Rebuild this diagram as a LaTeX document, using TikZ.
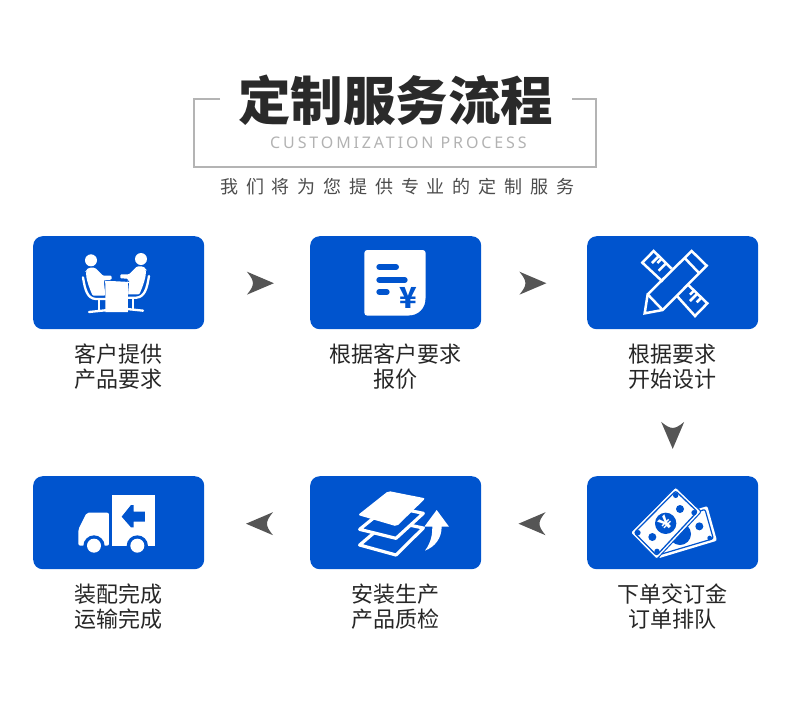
\documentclass[tikz,border=0pt]{standalone}
\usepackage{fontspec}
\usetikzlibrary{calc}
\setmainfont{Noto Sans}
\newfontfamily\cjk{Noto Sans CJK SC}
\newfontfamily\cjkspaced[LetterSpace=43.6]{Noto Sans CJK SC}
\newfontfamily\latspaced[LetterSpace=18]{Noto Sans}
\definecolor{brandblue}{HTML}{0054CE}
\definecolor{framegray}{HTML}{B4B4B4}
\definecolor{arrowgray}{HTML}{555555}
\definecolor{titleink}{HTML}{2A2A2A}
\tikzset{
  card/.style={fill=brandblue,rounded corners=9.5pt,minimum width=171pt,minimum height=93pt,inner sep=0pt,anchor=north west},
  lbl/.style={font=\cjk\fontsize{22}{25}\selectfont,text=black!85,align=center,inner sep=0pt},
  wline/.style={draw=white,line width=2.5pt},
  chev/.pic={\fill[arrowgray] (13.5,0) -- (-13.5,-11.5) .. controls (-9,-6) and (-7.5,-3) .. (-7.5,0) .. controls (-7.5,3) and (-9,6) .. (-13.5,11.5) -- cycle;}
}
\begin{document}
\begin{tikzpicture}[x=1pt,y=-1pt]
\useasboundingbox (0,0) rectangle (790,713);
% heading
\coordinate (fa) at (220,98.5);
\coordinate (fb) at (193.5,98.5);
\coordinate (fc) at (193.5,166.7);
\coordinate (fd) at (596,166.7);
\coordinate (fe) at (596,98.5);
\coordinate (ff) at (572,98.5);
\draw[framegray,line width=2pt] (fa) -- (fb) -- (fc) -- (fd) -- (fe) -- (ff);
\node[font=\cjk\bfseries\fontsize{52.5}{56}\selectfont,text=titleink,inner sep=0pt] (title) at (395.5,100.5) {定制服务流程};
\node[font=\latspaced\fontsize{16}{18}\selectfont,text=black!30,inner sep=0pt,anchor=west] (subtitle) at (270,143) {CUSTOMIZATION PROCESS};
\node[font=\cjkspaced\fontsize{18}{20}\selectfont,text=black!70,inner sep=0pt,anchor=west] (tagline) at (220,187) {我们将为您提供专业的定制服务};
% cards
\node[card] (c1) at (33,236) {};
\node[card] (c2) at (310,236) {};
\node[card] (c3) at (587,236) {};
\node[card] (c4) at (587,476) {};
\node[card] (c5) at (310,476) {};
\node[card] (c6) at (33,476) {};
% labels
\node[lbl] (t1) at (118.5,367) {客户提供\\产品要求};
\node[lbl] (t2) at (395.5,367) {根据客户要求\\报价};
\node[lbl] (t3) at (672.5,367) {根据要求\\开始设计};
\node[lbl] (t4) at (672.5,607) {下单交订金\\订单排队};
\node[lbl] (t5) at (395.5,607) {安装生产\\产品质检};
\node[lbl] (t6) at (118.5,607) {装配完成\\运输完成};
% step arrows
\pic at ($(c1.east)+(56,0.5)$) {chev};
\pic at ($(c2.east)+(51.5,0.5)$) {chev};
\pic[rotate=-90] at ($(c3.south)+(0,106)$) {chev};
\pic[rotate=180] at ($(c4.west)+(-55,1)$) {chev};
\pic[rotate=180] at ($(c5.west)+(-50.5,1)$) {chev};
% icon 1: two people at a table
\begin{scope}[shift={(30,230)},scale=1/3]
  \foreach \m/\o/\dy in {1/0/0,-1/516/-4}{
    \begin{scope}[shift={(\o,\dy)},xscale=\m]
      \fill[white] (183,91) circle (18);
      \draw[white,line width=2.3pt,line cap=round] (159,142) .. controls (165,180) and (172,205) .. (197,207) -- (228,207);
      \draw[white,line width=2.3pt] (206,207) -- (206,240);
      \draw[white,line width=2.3pt,line cap=round] (177,246) -- (235,240);
      \fill[white,rounded corners=1pt] (168,125) .. controls (170,112) and (192,110) .. (200,118) -- (219,137) -- (245,137) -- (245,149) -- (222,150) -- (226,197) -- (188,197) .. controls (176,170) and (168,145) .. cycle;
    \end{scope}
  }
  \draw[brandblue,line width=1pt] (224,152) -- (228,198);
  \draw[brandblue,line width=1pt] (296,152) -- (292,198);
  \fill[white] (224,152) -- (300,156) -- (294,160) -- (294,246) -- (226,246) -- (226,160) -- cycle;
\end{scope}
% icon 2: quotation sheet
\begin{scope}[shift={(240,230)},scale=1/3]
  \fill[white,rounded corners=3pt] (373,60) -- (557,60) -- (557,190) -- (557,257) -- (373,257) -- cycle;
  \fill[brandblue] (557,205) .. controls (557,235) and (535,257) .. (505,257) -- (560,262) -- (560,205) -- cycle;
  \draw[brandblue,line width=6pt,line cap=round] (418,111) -- (468,111);
  \draw[brandblue,line width=6pt,line cap=round] (418,150) -- (494,150);
  \draw[brandblue,line width=6pt,line cap=round] (418,186) -- (440,186);
  \node[font=\cjk\bfseries\fontsize{29}{30}\selectfont,text=brandblue,inner sep=0pt] (yen1) at (506,204) {¥};
\end{scope}
% icon 3: ruler and pencil
\begin{scope}[shift={(510,230)},scale=1/3]
  \draw[wline,line join=miter] (458,155) -- (397,98) -- (431,63) -- (485,116);
  \draw[wline] (446,79) -- (426,99);
  \draw[wline] (454,87) -- (442,99);
  \draw[wline] (468,100) -- (446,122);
  \draw[wline,line join=miter] (535,165) -- (592,220) -- (555,258) -- (500,197);
  \draw[wline] (552,182) -- (540,194);
  \draw[wline] (562,191) -- (540,213);
  \draw[wline] (574,203) -- (560,217);
  \draw[wline,line join=miter] (413,193) -- (545,63) -- (590,107) -- (458,240) -- (404,250) -- cycle;
  \draw[wline] (413,193) -- (458,240);
  \draw[wline] (525,85) -- (568,130);
\end{scope}
% icon 4: banknotes
\begin{scope}[shift={(510,410)},scale=1/3]
  \fill[white,rounded corners=2pt] (555,300) -- (592,288) -- (621,392) -- (445,445) -- cycle;
  \draw[brandblue,line width=1.2pt,rounded corners=2pt] (565,305) -- (585,298) -- (610,386) -- (455,432);
  \fill[brandblue] (568,349) circle (12);
  \fill[brandblue] (599,384) circle (7);
  \fill[brandblue] (510,372) circle (33);
  \fill[white,draw=brandblue,line width=1pt,rounded corners=2pt] (497,231) -- (574,305) -- (440,448) -- (361,368) -- cycle;
  \draw[brandblue,line width=1.3pt,rounded corners=2pt] (497,243) -- (562,305) -- (440,436) -- (373,368) -- cycle;
  \fill[brandblue] (467,340) circle (32);
  \fill[brandblue] (510,297) circle (12);
  \fill[brandblue] (427,381) circle (12);
  \fill[brandblue] (497,256) circle (8);
  \fill[brandblue] (552,308) circle (8);
  \fill[brandblue] (441,424) circle (8);
  \fill[brandblue] (384,368) circle (8);
  \node[font=\cjk\bfseries\fontsize{18}{18}\selectfont,text=white,inner sep=0pt,rotate=45] (yen2) at (467,340) {¥};
\end{scope}
% icon 5: stacked layers and up arrow
\begin{scope}[shift={(240,470)},scale=1/3]
  \draw[white,fill=brandblue,line width=3.2pt,line join=round] (445,152) -- (550,174) -- (468,255) -- (359,225) -- cycle;
  \draw[white,fill=brandblue,line width=3.2pt,line join=round] (445,108) -- (550,130) -- (468,205) -- (359,178) -- cycle;
  \fill[white,rounded corners=2pt] (445,63) -- (556,85) -- (470,169) -- (354,135) -- cycle;
  \fill[white] (590,120) -- (627,170) -- (605,170) .. controls (605,205) and (585,230) .. (555,242) .. controls (575,215) and (577,190) .. (577,170) -- (553,170) -- cycle;
\end{scope}
% icon 6: delivery truck
\begin{scope}[shift={(30,470)},scale=1/3]
  \fill[white] (245,75) rectangle (375,227);
  \fill[white,rounded corners=2pt] (170,128) -- (237,128) -- (237,227) -- (145,227) -- (145,178) -- cycle;
  \fill[brandblue] (275,140) -- (303,105) -- (311,105) -- (311,125) -- (345,125) -- (345,155) -- (311,155) -- (311,172) -- (303,172) -- cycle;
  \fill[brandblue] (192,228) circle (32);
  \fill[brandblue] (322,228) circle (32);
  \fill[brandblue] (150,228) rectangle (365,262);
  \fill[white] (192,227) circle (21);
  \fill[white] (322,227) circle (21);
\end{scope}
\end{tikzpicture}
\end{document}
